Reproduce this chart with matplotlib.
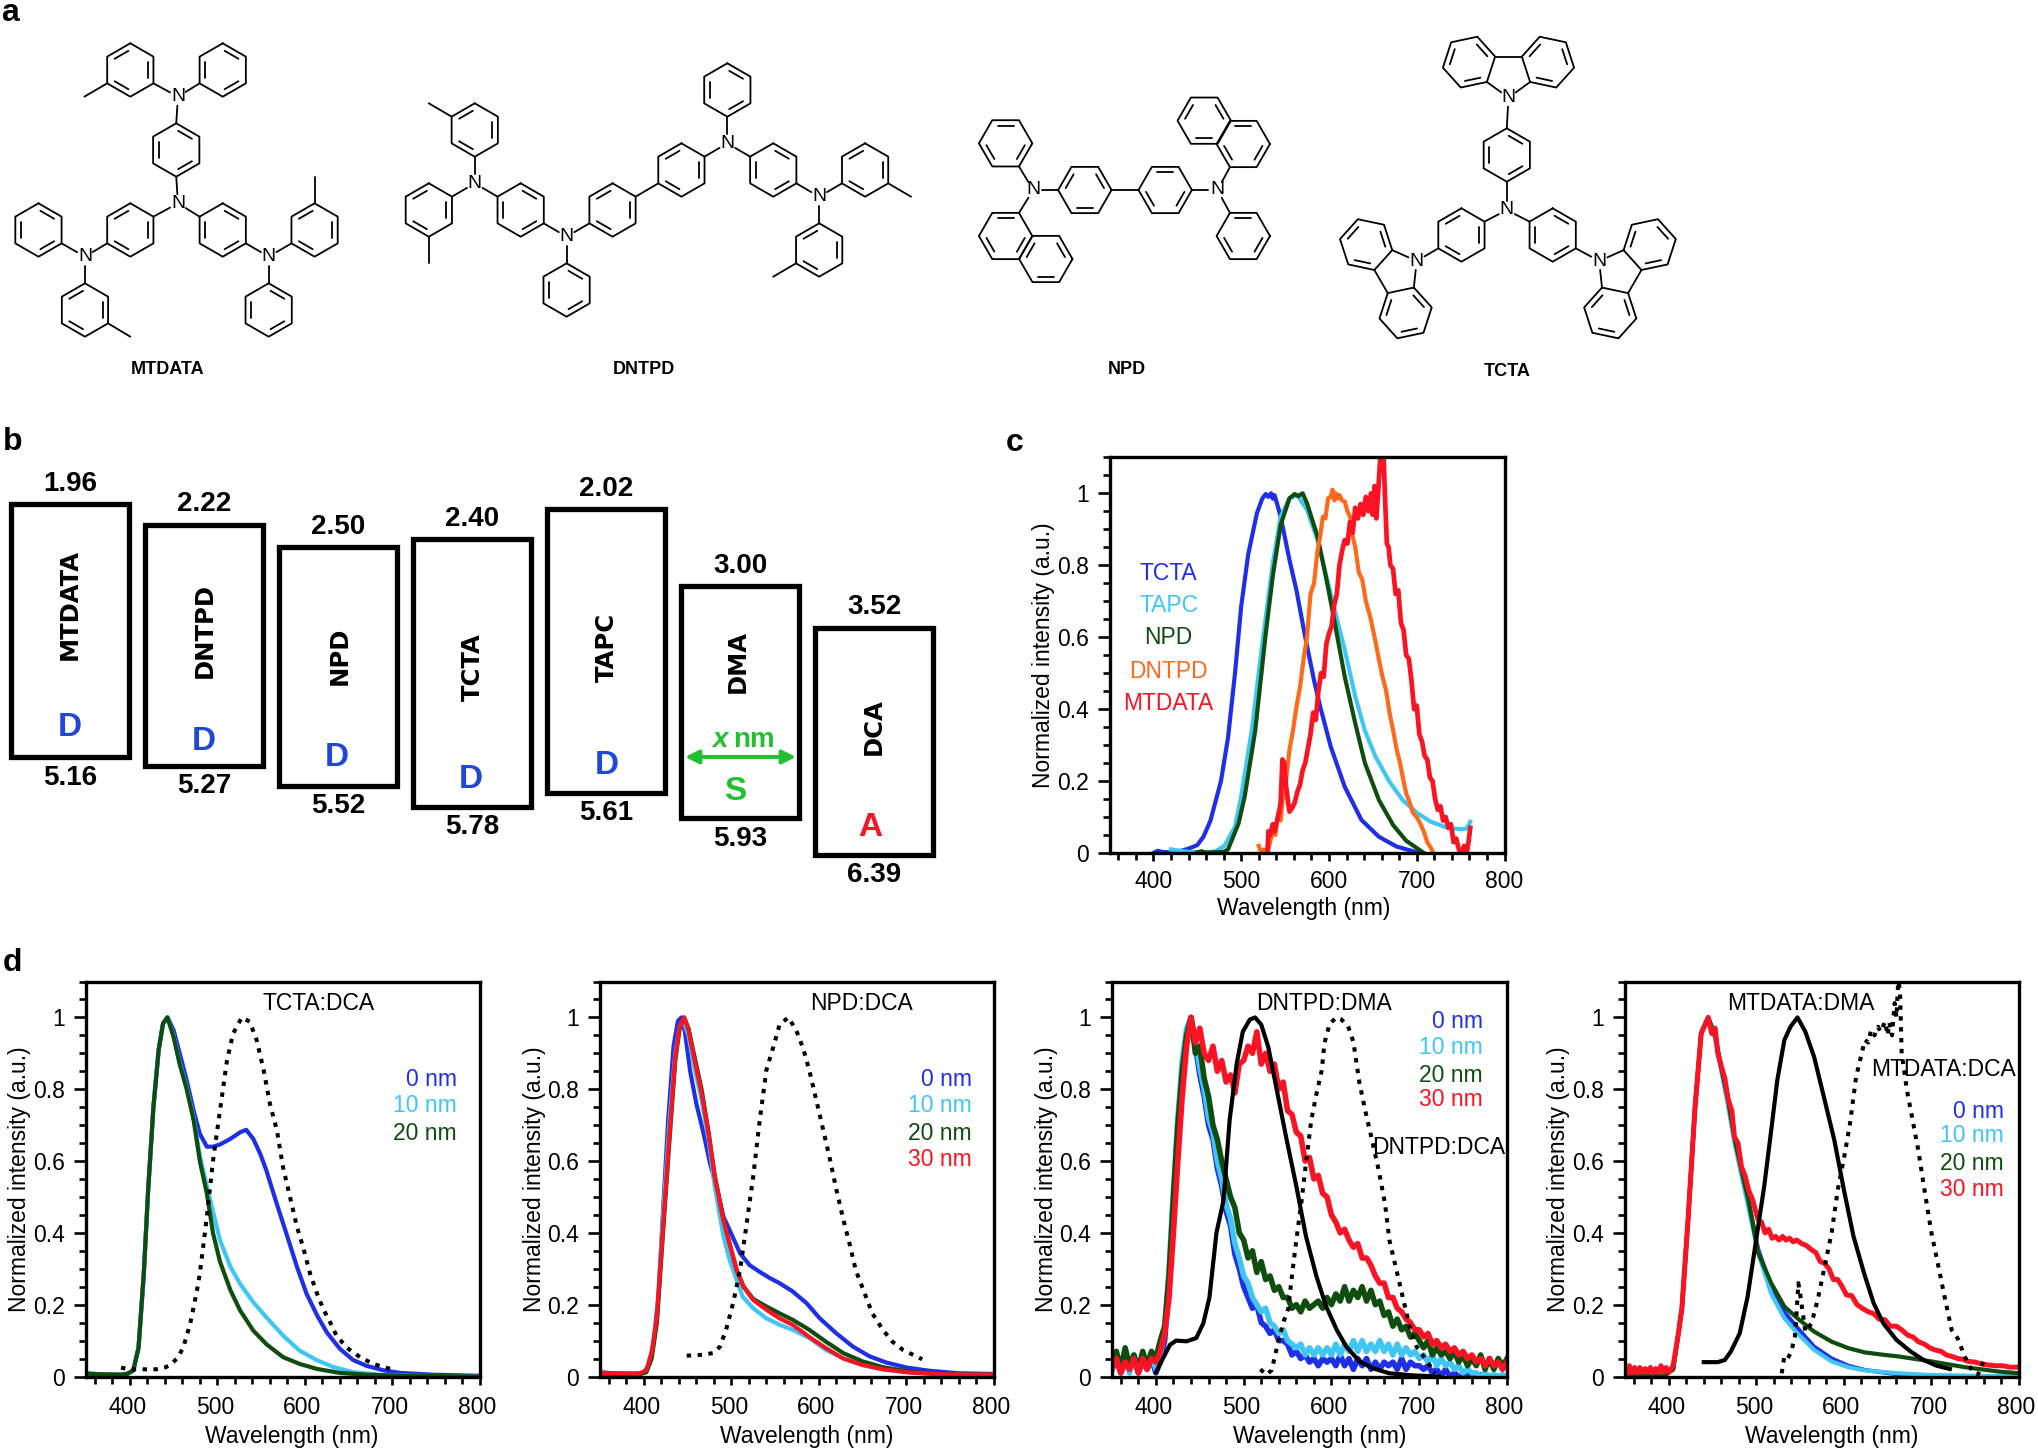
import numpy as np
import matplotlib
matplotlib.use("Agg")
import matplotlib.pyplot as plt
from matplotlib.transforms import ScaledTranslation
from matplotlib.ticker import MultipleLocator, FixedLocator

plt.rcParams['font.family'] = ['Liberation Sans', 'DejaVu Sans']
W, H = 2038, 1451
DPI = 100
BLUE, CYAN, GREEN, ORANGE, RED = '#1F2FE8', '#3FC6F5', '#0F4D0F', '#FF6A1A', '#FA1423'

# ------------------------ panel b data ------------------------
b_names = ['MTDATA', 'DNTPD', 'NPD', 'TCTA', 'TAPC', 'DMA', 'DCA']
b_lumo = [1.96, 2.22, 2.50, 2.40, 2.02, 3.00, 3.52]
b_homo = [5.16, 5.27, 5.52, 5.78, 5.61, 5.93, 6.39]

# ------------------------ panel c data ------------------------
c_tcta_x = [400,405,410,420,430,440,450,457,465,477,485,493,500,508,518,524,528,531,534,536,538,541,545,550,555,563,573,583,590,602,618,637,657,677,700,706]
c_tcta_y = [0,.006,.003,.002,.005,.012,.022,.045,.09,.2,.32,.5,.685,.83,.945,.985,.998,.99,1.0,.985,.995,.97,.935,.875,.815,.73,.6,.48,.407,.296,.184,.092,.045,.018,.002,0]
c_tapc_x = [420,425,440,460,470,481,493,500,512,524,536,545,555,564,575,587,598,606,618,630,641,653,669,684,700,716,735,751,757,761]
c_tapc_y = [.01,.008,.003,.002,.004,.02,.073,.157,.34,.58,.805,.935,.986,.995,.954,.87,.76,.68,.565,.435,.34,.268,.198,.147,.112,.087,.07,.066,.068,.087]
c_npd_x = [450,455,460,470,480,485,497,504,516,528,536,545,555,561,565,570,575,587,598,606,618,630,641,657,673,688,707]
c_npd_y = [.002,.005,.001,.002,.003,.01,.082,.157,.34,.61,.77,.912,.986,.998,.992,1.0,.972,.88,.75,.648,.49,.36,.25,.147,.078,.034,.002]
c_dntpd_x = [520,523,526,530,533,536,539,542,545,548,551,555,559,563,567,571,575,579,583,587,590,593,596,599,602,604,606,608,610,612,615,618,621,624,627,630,634,638,642,647,652,657,661,665,669,673,677,681,685,688,692,696,700,704,708,712,716,719]
c_dntpd_y = [.02,.0,.01,.002,.03,.064,.05,.11,.09,.166,.2,.286,.34,.407,.46,.537,.6,.72,.75,.84,.88,.935,.93,.986,.99,1.01,.98,1.0,.985,.995,.98,.977,.95,.935,.88,.85,.78,.76,.7,.657,.6,.537,.49,.453,.39,.342,.29,.25,.2,.166,.14,.11,.1,.082,.06,.03,.015,0]
c_mtdata_x = [530,531,533,536,538,541,543,545,547,549,
              551,553,555,558,561,564,567,570,573,576,
              579,582,585,588,591,594,597,600,603,606,
              609,612,615,618,621,624,627,630,633,636,
              639,642,645,648,650,652,654,656,658,660,
              662,664,666,668,670,673,676,679,682,685,
              688,691,694,697,700,703,706,709,712,715,
              718,721,724,727,730,733,736,739,742,745,
              748,751,754,757,759,761]
c_mtdata_y = [0,.06,.05,.08,.06,.09,.11,.14,.26,.25,
              .19,.15,.115,.125,.14,.17,.19,.23,.25,.29,
              .33,.39,.37,.45,.5,.49,.58,.61,.63,.69,
              .72,.8,.84,.87,.86,.92,.89,.96,.93,.97,
              .94,.99,.95,1.0,.94,1.02,.93,1.0,1.08,1.14,
              1.12,.98,.86,.85,.8,.79,.72,.73,.64,.62,
              .55,.54,.48,.4,.41,.33,.31,.27,.26,.21,
              .2,.15,.12,.13,.09,.1,.07,.08,.03,.04,
              .01,0,.02,0,.03,.07]
c_names = ['TCTA', 'TAPC', 'NPD', 'DNTPD', 'MTDATA']

# ------------------------ panel d1 data (TCTA:DCA) ------------------------
d1_rise_x = [350,370,390,397,404,410,416,421,427,433,438,443]
d1_rise_y = [.008,.006,.005,.007,.017,.08,.286,.52,.75,.91,.983,1.0]
d1_blue_x = [450,457,465,473,480,488,495,503,515,526,533,541,549,556,568,579,591,602,614,625,640,655,670,690,709,747,800]
d1_blue_y = [.965,.9,.825,.74,.676,.64,.64,.646,.662,.68,.687,.662,.62,.574,.48,.397,.305,.23,.17,.123,.077,.046,.03,.017,.01,.005,.002]
d1_cyan_x = [450,457,465,473,480,488,495,503,515,526,541,556,575,594,614,633,655,690,720,800]
d1_cyan_y = [.95,.875,.805,.72,.615,.53,.46,.38,.305,.258,.207,.165,.114,.072,.045,.026,.012,.004,.002,0]
d1_green_x = [450,457,465,473,480,488,495,503,515,526,541,556,575,594,614,640,670,709,800]
d1_green_y = [.946,.87,.8,.713,.6,.51,.4,.32,.24,.184,.128,.09,.054,.035,.021,.01,.005,.002,0]
d1_dot_x = [390,395,400,410,420,430,440,445,454,461,469,476,480,488,495,503,511,518,528,537,545,553,560,568,575,583,591,598,606,614,621,629,636,648,663,678,699]
d1_dot_y = [.025,.022,.02,.02,.02,.02,.025,.03,.05,.08,.147,.23,.286,.444,.6,.74,.88,.955,1.0,.988,.936,.852,.76,.686,.583,.5,.416,.36,.286,.23,.188,.15,.114,.08,.054,.035,.02]

# ------------------------ panel d2 data (NPD:DCA) ------------------------
d2_blue_x = [350,370,390,400,405,411,417,422,428,434,439,443,447,453,460,468,476,483,491,498,510,521,532,544,555,570,586,601,620,639,658,677,700,726,760,800]
d2_blue_y = [.012,.008,.008,.01,.03,.09,.23,.46,.72,.92,.99,1.0,.96,.85,.76,.68,.59,.53,.445,.408,.343,.31,.292,.274,.26,.237,.204,.162,.12,.083,.056,.039,.025,.016,.009,.007]
d2_cyan_x = [350,395,403,409,415,422,430,436,441,446,451,458,466,474,481,491,498,506,513,525,540,555,570,589,608,628,650,673,704,741,800]
d2_cyan_y = [.008,.007,.018,.065,.167,.45,.73,.9,.975,.985,.95,.86,.77,.66,.53,.39,.325,.27,.222,.19,.162,.144,.13,.107,.074,.05,.032,.02,.011,.006,.004]
d2_green_x = [350,395,403,409,415,422,430,436,441,446,451,458,466,474,481,491,498,506,514,525,540,555,570,589,608,628,650,673,704,741,800]
d2_green_y = [.008,.006,.012,.05,.15,.4,.68,.88,.97,1.0,.97,.89,.8,.68,.56,.436,.37,.297,.25,.216,.195,.176,.158,.13,.097,.065,.042,.026,.013,.007,.005]
d2_red_x = [350,395,403,409,415,422,430,436,441,446,451,458,466,474,481,491,498,506,514,525,540,555,570,589,608,628,650,673,704,741,800]
d2_red_y = [.01,.008,.018,.065,.167,.417,.696,.89,.974,1.0,.965,.88,.79,.677,.557,.436,.37,.297,.25,.213,.186,.162,.144,.11,.079,.05,.032,.02,.011,.006,.005]
d2_dot_x = [449,464,479,487,494,502,510,517,525,532,540,548,555,565,574,582,589,597,605,612,620,628,635,642,650,661,673,684,696,718]
d2_dot_y = [.058,.06,.065,.083,.13,.204,.297,.417,.557,.705,.853,.918,.979,1.0,.965,.914,.853,.77,.686,.612,.52,.436,.37,.297,.246,.176,.13,.097,.074,.048]

# ------------------------ panel d3 data (DNTPD:DMA / DNTPD:DCA) ------------------------
d3_x = list(range(350, 801, 5))
d3_blue = [.02,.05,.01,.04,.02,.05,.01,.04,.02,.05,
           .01,.04,.1,.26,.47,.68,.86,.95,1.0,.92,
           .84,.78,.7,.66,.58,.53,.46,.42,.34,.3,
           .25,.22,.19,.2,.15,.14,.12,.13,.1,.1,
           .09,.06,.07,.05,.06,.04,.05,.03,.05,.04,
           .05,.03,.06,.03,.05,.02,.05,.03,.05,.02,
           .04,.02,.04,.03,.04,.02,.05,.02,.04,.03,
           .03,.02,.03,.01,.02,.0,.02,0,.01,0,
           0,.005,0,0,.005,0,0,0,0,0,
           0]
d3_cyan = [.02,.06,.02,.05,.01,.06,.02,.05,.02,.06,
           .02,.06,.13,.3,.52,.72,.88,.97,1.0,.94,
           .86,.8,.72,.68,.6,.55,.48,.44,.37,.33,
           .28,.26,.22,.2,.18,.19,.15,.14,.12,.13,
           .1,.09,.08,.09,.06,.08,.06,.08,.06,.08,
           .06,.09,.06,.09,.07,.1,.07,.1,.07,.09,
           .07,.1,.07,.09,.06,.09,.06,.08,.06,.07,
           .05,.06,.04,.06,.03,.05,.03,.04,.02,.03,
           .01,.02,.01,.01,.0,.01,0,.005,0,.005,
           0]
d3_green = [.03,.07,.02,.08,.03,.06,.02,.07,.03,.07,
            .05,.1,.14,.28,.5,.7,.85,.95,1.0,.9,
            .92,.83,.78,.7,.66,.6,.55,.5,.47,.4,
            .38,.33,.35,.29,.32,.27,.28,.24,.25,.22,
            .22,.19,.2,.18,.21,.19,.2,.21,.19,.22,
            .2,.23,.21,.25,.21,.24,.22,.25,.21,.24,
            .2,.21,.17,.18,.14,.16,.13,.14,.11,.12,
            .1,.08,.1,.06,.08,.06,.07,.05,.07,.04,
            .06,.03,.05,.03,.06,.02,.05,.02,.05,.03,
            .05]
d3_red = [.02,.05,.01,.04,.02,.05,.01,.05,.02,.05,
          .04,.07,.12,.22,.4,.6,.78,.92,1.0,.93,
          .97,.9,.88,.92,.85,.88,.82,.84,.79,.87,
          .88,.92,.9,.96,.87,.9,.85,.87,.8,.82,
          .74,.73,.68,.67,.6,.61,.55,.56,.51,.5,
          .45,.43,.4,.41,.38,.36,.37,.33,.33,.31,
          .28,.26,.26,.22,.22,.19,.18,.16,.15,.13,
          .13,.11,.12,.09,.1,.08,.09,.07,.08,.06,
          .07,.05,.06,.04,.05,.03,.05,.03,.04,.02,
          .04]
d3_dma_x = [400,408,416,423,435,446,454,461,469,477,484,492,499,507,513,520,528,537,549,560,571,583,594,606,617,632,647,666,693,723]
d3_dma_y = [.012,.05,.088,.1,.098,.107,.148,.22,.4,.49,.714,.87,.96,.994,1.0,.98,.918,.807,.659,.53,.39,.278,.195,.13,.083,.042,.023,.009,.003,0]
d3_dot_x = [519,526,532,539,545,551,554,560,566,571,577,583,589,592,598,606,611,619,625,632,640,647,653,661,666,674,682,689,697,708,718]
d3_dot_y = [.02,.005,.018,.093,.15,.19,.26,.38,.49,.594,.714,.788,.853,.928,.983,1.0,.995,.975,.932,.816,.724,.65,.584,.482,.38,.297,.213,.14,.083,.046,.009]

# ------------------------ panel d4 data (MTDATA:DMA / MTDATA:DCA) ------------------------
d4_cyan_x = [350,395,405,411,415,422,430,437,445,453,460,468,475,483,491,502,517,532,547,566,586,605,624,662,700,800]
d4_cyan_y = [.002,.002,.02,.12,.19,.436,.75,.955,1.0,.94,.85,.75,.65,.56,.47,.345,.23,.162,.12,.074,.042,.026,.017,.009,.004,0]
d4_blue_x = [350,395,405,411,415,422,430,437,445,453,460,468,475,483,491,502,517,532,547,566,586,605,624,662,700,800]
d4_blue_y = [.002,.002,.02,.12,.19,.436,.75,.955,1.0,.945,.855,.76,.66,.57,.49,.355,.25,.18,.135,.083,.05,.03,.018,.006,.002,0]
d4_green_x = [350,395,405,411,415,422,430,437,445,453,460,468,475,483,491,502,517,532,547,566,586,605,624,647,662,700,738,776,800]
d4_green_y = [.002,.002,.02,.12,.19,.436,.75,.955,1.0,.95,.86,.765,.665,.575,.49,.345,.26,.195,.162,.125,.097,.079,.067,.06,.056,.042,.026,.014,.009]
d4_red_x = [350,352,355,358,361,364,367,370,373,376,379,382,385,388,391,394,397,400,405,411,415,422,430,437,445,449,453,456,460,464,468,472,475,479,483,487,491,496,502,506,510,514,518,522,526,530,534,538,542,546,552,557,563,568,573,578,583,588,593,598,603,609,615,621,628,634,640,647,653,660,666,673,679,685,692,698,704,711,717,723,730,736,742,750,757,765,773,781,790,800]
d4_red_y = [.02,.005,.03,.01,.025,.01,.025,.012,.022,.012,.025,.01,.022,.012,.03,.012,.025,.012,.03,.12,.19,.436,.75,.955,1.0,.955,.97,.9,.864,.83,.77,.74,.668,.65,.584,.56,.52,.49,.436,.43,.4,.41,.385,.39,.38,.39,.38,.385,.375,.38,.37,.365,.353,.345,.32,.315,.3,.27,.27,.25,.227,.225,.2,.19,.18,.175,.16,.158,.14,.14,.13,.115,.11,.097,.09,.08,.074,.07,.06,.056,.05,.048,.042,.04,.035,.032,.03,.03,.026,.026]
d4_dma_x = [440,456,464,471,481,490,501,509,517,524,532,539,547,556,566,577,589,600,611,623,634,645,660,676,691,706,721]
d4_dma_y = [.04,.04,.046,.07,.12,.222,.4,.53,.686,.826,.937,.974,1.0,.96,.89,.78,.659,.52,.39,.288,.204,.148,.102,.07,.046,.03,.021]
d4_dot_x = [529,532,536,540,544,546,548,550,552,556,563,570,578,586,593,601,607,614,624,628,631,635,639,642,647,650,652,655,658,660,662,664,666,672,677,685,692,700,708,715,723,730,738,746,753,761]
d4_dot_y = [.009,.056,.05,.07,.11,.18,.26,.23,.195,.125,.148,.213,.306,.4,.52,.62,.705,.835,.937,.93,.965,.95,.974,.96,.988,.95,.985,.95,1.04,1.0,1.1,1.08,.9,.797,.733,.63,.52,.4,.306,.222,.13,.106,.056,.018,.005,.05]

thick = 3.0
noisy = 4.0


def px_axes(l, t, r, b):
    return fig.add_axes([l / W, 1 - b / H, (r - l) / W, (b - t) / H])


def spectrum_axes(l, t, r, b, xlab_dx=0, xlab_dy=60, tick_dy=11, tick_shift=-2.5):
    ax = px_axes(l, t, r, b)
    ax.set_xlim(350, 800)
    ax.set_ylim(0, 1.1)
    for s in ax.spines.values():
        s.set_linewidth(2.4)
        s.set_zorder(5)
    ax.set_xticks([400, 500, 600, 700, 800])
    ax.xaxis.set_minor_locator(FixedLocator([v for v in range(360, 800, 20) if v % 100]))
    ax.set_yticks([0, .2, .4, .6, .8, 1.0], ['0', '0.2', '0.4', '0.6', '0.8', '1'])
    ax.yaxis.set_minor_locator(MultipleLocator(0.05))
    ax.tick_params(axis='x', which='major', length=5.8, width=1.9, labelsize=16.5, pad=tick_dy * .72)
    ax.tick_params(axis='x', which='minor', length=5, width=1.9)
    ax.tick_params(axis='y', which='major', length=8.6, width=1.9, labelsize=16.5, pad=6.5)
    ax.tick_params(axis='y', which='minor', length=5, width=1.9)
    shift = ScaledTranslation(tick_shift / DPI, 0, fig.dpi_scale_trans)
    for lab in ax.get_xticklabels():
        lab.set_transform(lab.get_transform() + shift)
    ax.set_xlabel('Wavelength (nm)', fontsize=16.5, va='center')
    ax.set_ylabel('Normalized intensity (a.u.)', fontsize=16.5, va='center')
    ax.xaxis.set_label_coords(.5 + xlab_dx / (r - l), -xlab_dy / (b - t))
    ax.yaxis.set_label_coords(-66 / (r - l), .5)
    return ax


def line(ax, x, y, c, lw=thick, **k):
    ax.plot(x, y, color=c, lw=lw, solid_joinstyle='round', **k)


def dotted(ax, x, y):
    ax.plot(x, y, color='black', lw=2.9, ls=(0, (1.1, 1.6)))


def legend(labels, colors, xr, ys):
    for s, c, y in zip(labels, colors, ys):
        ov.text(xr, y, s, color=c, fontsize=16.5, ha='right', va='center')


fig = plt.figure(figsize=(W / DPI, H / DPI), dpi=DPI, facecolor='white')
ov = fig.add_axes([0, 0, 1, 1], zorder=10)
ov.set_xlim(0, W)
ov.set_ylim(H, 0)
ov.axis('off')
ov.patch.set_alpha(0)

# --------------- panel letters ---------------
for s, x, y in [('a', 10, 13), ('b', 13, 442), ('c', 1015, 443), ('d', 12, 963)]:
    ov.text(x, y, s, fontsize=23, fontweight='bold', ha='center', va='center')

# --------------- panel a: chemical structures ---------------
R = 26.7
CH = dict(color='black', lw=1.3, solid_capstyle='round', solid_joinstyle='round')


def zp(zx, zy, x0=0):
    return np.array([zx / 1.742 + x0, zy / 3.0])


def hexverts(c, rot):
    a = np.radians(rot + 60 * np.arange(6))
    return np.c_[c[0] + R * np.cos(a), c[1] - R * np.sin(a)]


def seg(a, b, ta=0, tb=0):
    a, b = np.asarray(a, float), np.asarray(b, float)
    u = (b - a) / np.linalg.norm(b - a)
    a2, b2 = a + u * ta, b - u * tb
    ov.plot([a2[0], b2[0]], [a2[1], b2[1]], **CH)


def draw_hex(v, dbl):
    c = v.mean(axis=0)
    ov.plot(np.r_[v[:, 0], v[0, 0]], np.r_[v[:, 1], v[0, 1]], **CH)
    for k in dbl:
        p = c + .76 * (v[k] - c)
        q = c + .76 * (v[(k + 1) % 6] - c)
        seg(p, q, 2.2, 2.2)


def nlabel(p):
    ov.text(p[0], p[1], 'N', fontsize=14, ha='center', va='center')


def nearest(v, p):
    return v[np.argmin(np.linalg.norm(v - p, axis=1))]


def molecule(rings, nitro, links, methyl, x0=0, rot=90):
    vs = []
    for zx, zy, ph in rings:
        v = hexverts(zp(zx, zy, x0), rot)
        vs.append(v)
        draw_hex(v, [0, 2, 4] if ph == 0 else [1, 3, 5])
    for zx, zy, idx in nitro:
        p = zp(zx, zy, x0)
        nlabel(p)
        for i in idx:
            seg(p, nearest(vs[i], p), 9, 0)
    for i, j in links:
        d = [(np.linalg.norm(a - b), k, m) for k, a in enumerate(vs[i]) for m, b in enumerate(vs[j])]
        _, k, m = min(d)
        seg(vs[i][k], vs[j][m])
    for i, zx, zy in methyl:
        e = zp(zx, zy, x0)
        seg(nearest(vs[i], e), e)
    return vs


# MTDATA
molecule([(227, 210, 0), (388, 210, 1), (307, 450, 1), (227, 690, 0), (388, 690, 1),
          (67, 690, 1), (148, 930, 0), (548, 690, 0), (468, 930, 1)],
         [(310, 290, [0, 1, 2]), (310, 610, [2, 3, 4]), (148, 770, [3, 5, 6]), (468, 770, [4, 7, 8])],
         [], [(0, 147, 290), (6, 227, 1010), (7, 548, 530)])
# DNTPD
molecule([(827, 390, 0), (747, 630, 0), (907, 630, 1), (987, 870, 1), (1067, 630, 0), (1187, 510, 0),
          (1267, 270, 1), (1347, 510, 1), (1507, 510, 0), (1427, 750, 0)],
         [(827, 550, [0, 1, 2]), (987, 710, [2, 3, 4]), (1267, 430, [5, 6, 7]), (1427, 590, [7, 8, 9])],
         [(4, 5)], [(0, 747, 310), (1, 747, 790), (8, 1587, 590), (9, 1347, 830)])
# NPD
molecule([(184, 430, 1), (184, 708, 1), (254, 777, 0), (322, 570, 0), (462, 570, 1),
          (598, 432, 1), (530, 362, 0), (598, 708, 1)],
         [(232, 570, [0, 1, 3]), (553, 570, [4, 5, 7])],
         [(3, 4)], [], x0=900, rot=0)
# TCTA
tc_rings = molecule([(1057, 465, 1), (978, 705, 0), (1137, 705, 1)],
                    [(1057, 630, [0, 1, 2])], [], [], x0=900)


def carbazole(n, axis, target):
    n = np.asarray(n, float)
    axis = np.asarray(axis, float) / np.linalg.norm(axis)
    r = R / (2 * np.sin(np.radians(36)))
    pc = n + axis * r
    base = n - pc
    rotv = lambda v, t: np.array([v[0] * np.cos(t) - v[1] * np.sin(t), v[0] * np.sin(t) + v[1] * np.cos(t)])
    pts = [pc + rotv(base, np.radians(72 * k)) for k in range(5)]
    seg(n, pts[1], 9, 0)
    seg(n, pts[4], 9, 0)
    seg(pts[2], pts[3])
    for a, b in [(pts[1], pts[2]), (pts[4], pts[3])]:
        mid = (a + b) / 2
        out = (mid - pc) / np.linalg.norm(mid - pc)
        hc = mid + out * R * .866
        for sgn in (1, -1):
            v = [hc + rotv(a - hc, np.radians(sgn * 60 * k)) for k in range(6)]
            if np.linalg.norm(v[1] - b) < 1:
                break
        draw_hex(np.array(v), [1, 3, 5])
    nlabel(n)
    seg(n, nearest(target, n), 9, 0)


carbazole(zp(1060, 293, 900), (0, -1), tc_rings[0])
carbazole(zp(900, 783, 900), (-.866, .5), tc_rings[1])
carbazole(zp(1218, 783, 900), (.866, .5), tc_rings[2])

for s, x, y in [('MTDATA', 167.6, 369), ('DNTPD', 644, 369), ('NPD', 1127, 369), ('TCTA', 1507, 371)]:
    ov.text(x, y, s, fontsize=13, fontweight='bold', ha='center', va='center')

# --------------- panel b: energy levels ---------------
PX0, STEP = 70.2, 134.0
ax_b = px_axes(0, 430, 1000, 900)
ax_b.set_xlim(-PX0 / STEP, (1000 - PX0) / STEP)
ax_b.set_ylim(1.96 + (900 - 504) / 79.2, 1.96 + (430 - 504) / 79.2)
ax_b.axis('off')
ax_b.patch.set_alpha(0)
b_idx = np.arange(len(b_names))
ax_b.bar(b_idx, np.array(b_homo) - np.array(b_lumo), bottom=b_lumo, width=.88,
         facecolor='none', edgecolor='black', linewidth=3.8)
for i, (lu, ho) in enumerate(zip(b_lumo, b_homo)):
    ax_b.annotate(f'{lu:.2f}', (i, lu), xytext=(0, 14.5), textcoords='offset points',
                  ha='center', va='center', fontsize=20, fontweight='bold')
    ax_b.annotate(f'{ho:.2f}', (i, ho), xytext=(0, -14.5), textcoords='offset points',
                  ha='center', va='center', fontsize=20, fontweight='bold')
for s, x, y in zip(b_names, [70, 205, 340, 473, 607, 738, 874], [604, 631, 656, 667, 647.5, 661.7, 727]):
    ov.text(x, y, s, fontsize=17.5, family='DejaVu Sans', fontweight='bold', rotation=90, ha='center', va='center')
DB = '#2048D8'
DG = '#20C030'
for s, c, x, y in [('D', DB, 70, 727), ('D', DB, 204, 741), ('D', DB, 337, 758), ('D', DB, 471, 780),
                   ('D', DB, 607, 766), ('S', DG, 735, 791), ('A', RED, 870.5, 828)]:
    ov.text(x, y, s, color=c, fontsize=24, fontweight='bold', ha='center', va='center')
ov.text(712, 740, 'x', color=DG, fontsize=20, fontweight='bold', style='italic', ha='left', va='center')
ov.text(733, 740, 'nm', color=DG, fontsize=20, fontweight='bold', ha='left', va='center')
ov.annotate('', xy=(796, 757), xytext=(685, 757),
            arrowprops=dict(arrowstyle='<|-|>', color=DG, lw=2.8, mutation_scale=20, shrinkA=0, shrinkB=0))

# --------------- panel c ---------------
ax = spectrum_axes(1109.5, 457.3, 1504.5, 853, xlab_dx=-3, xlab_dy=55, tick_dy=9, tick_shift=0)
line(ax, c_tcta_x, c_tcta_y, BLUE)
line(ax, c_tapc_x, c_tapc_y, CYAN)
line(ax, c_npd_x, c_npd_y, GREEN)
line(ax, c_dntpd_x, c_dntpd_y, ORANGE)
line(ax, c_mtdata_x, c_mtdata_y, RED, lw=3.4)
for s, col, y in zip(c_names, [BLUE, CYAN, GREEN, ORANGE, RED], [573, 605, 638, 671, 703]):
    ov.text(1168.7, y, s, color=col, fontsize=16.5, ha='center', va='center')

# --------------- panel d ---------------
AT, AB = 981.5, 1376.5
ax = spectrum_axes(86, AT, 480, AB, xlab_dx=9)
line(ax, d1_rise_x + d1_blue_x, d1_rise_y + d1_blue_y, BLUE)
line(ax, d1_rise_x + d1_cyan_x, d1_rise_y + d1_cyan_y, CYAN)
line(ax, d1_rise_x + d1_green_x, d1_rise_y + d1_green_y, GREEN)
dotted(ax, d1_dot_x, d1_dot_y)
ov.text(319, 1004, 'TCTA:DCA', fontsize=16.5, ha='center', va='center')
legend(['0 nm', '10 nm', '20 nm'], [BLUE, CYAN, GREEN], 456.7, [1080, 1105, 1133])

ax = spectrum_axes(600, AT, 994, AB, xlab_dx=10)
line(ax, d2_blue_x, d2_blue_y, BLUE)
line(ax, d2_cyan_x, d2_cyan_y, CYAN)
line(ax, d2_green_x, d2_green_y, GREEN)
line(ax, d2_red_x, d2_red_y, RED)
dotted(ax, d2_dot_x, d2_dot_y)
ov.text(861.7, 1004, 'NPD:DCA', fontsize=16.5, ha='center', va='center')
legend(['0 nm', '10 nm', '20 nm', '30 nm'], [BLUE, CYAN, GREEN, RED], 971.7, [1080, 1105, 1133, 1159])

ax = spectrum_axes(1112, AT, 1507, AB, xlab_dx=10)
line(ax, d3_x, d3_blue, BLUE, lw=noisy)
line(ax, d3_x, d3_cyan, CYAN, lw=noisy)
line(ax, d3_x, d3_green, GREEN, lw=noisy)
line(ax, d3_x, d3_red, RED, lw=noisy)
dotted(ax, d3_dot_x, d3_dot_y)
line(ax, d3_dma_x, d3_dma_y, 'black')
ov.text(1324, 1004, 'DNTPD:DMA', fontsize=16.5, ha='center', va='center')
ov.text(1439, 1147, 'DNTPD:DCA', fontsize=16.5, ha='center', va='center')
legend(['0 nm', '10 nm', '20 nm', '30 nm'], [BLUE, CYAN, GREEN, RED], 1483, [1022, 1047, 1075, 1100])

ax = spectrum_axes(1625, AT, 2019, AB, xlab_dx=10)
line(ax, d4_blue_x, d4_blue_y, BLUE)
line(ax, d4_cyan_x, d4_cyan_y, CYAN)
line(ax, d4_green_x, d4_green_y, GREEN)
line(ax, d4_red_x, d4_red_y, RED, lw=3.6)
dotted(ax, d4_dot_x, d4_dot_y)
line(ax, d4_dma_x, d4_dma_y, 'black')
ov.text(1801, 1004, 'MTDATA:DMA', fontsize=16.5, ha='center', va='center')
ov.text(1944, 1069, 'MTDATA:DCA', fontsize=16.5, ha='center', va='center')
legend(['0 nm', '10 nm', '20 nm', '30 nm'], [BLUE, CYAN, GREEN, RED], 2004, [1111, 1136, 1164, 1189])

fig.savefig('out.png', dpi=DPI, facecolor='white')
